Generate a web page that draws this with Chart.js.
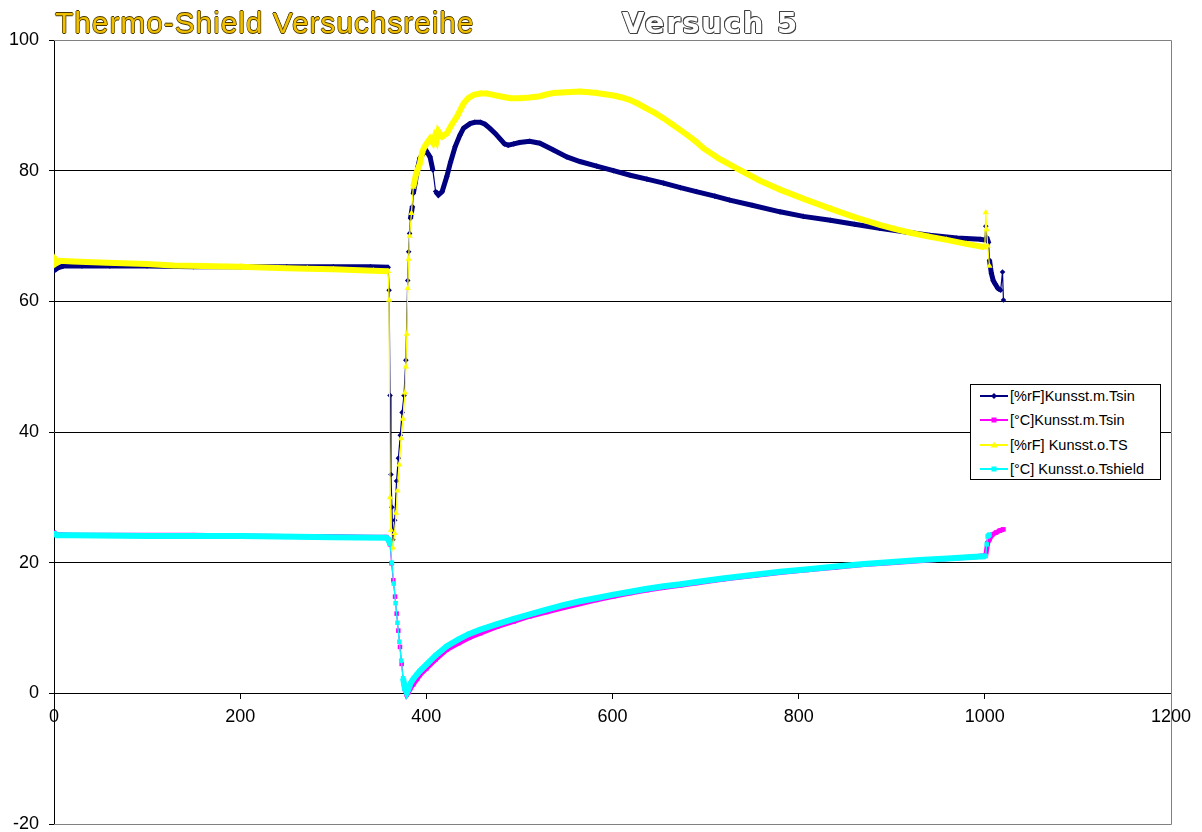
<!DOCTYPE html>
<html>
<head>
<meta charset="utf-8">
<script src="https://cdn.jsdelivr.net/npm/chart.js@4.4.0/dist/chart.umd.min.js"></script>
<style>
  body { margin: 0; background: #fff; }
  #wrap { position: relative; width: 1202px; height: 832px; font-family: "Liberation Sans", Arial, sans-serif; }
  #chart { position: absolute; left: 0; top: 0; }
  .titel { position: absolute; top: 8px; font-size: 30px; line-height: 30px; white-space: nowrap; }
  #titel1 {
    left: 55px; color: #f0c000; letter-spacing: 0.9px;
    text-shadow: 0.7px 0 0 #4a3800, -0.7px 0 0 #4a3800, 0 0.7px 0 #4a3800, 0 -0.7px 0 #4a3800;
  }
  #titel2 {
    left: 622px; color: #fff; font-family: "DejaVu Sans", sans-serif; font-weight: bold; font-size: 29px; letter-spacing: 1.8px;
    text-shadow: 1px 0 0 #404040, -1px 0 0 #404040, 0 1px 0 #404040, 0 -1px 0 #404040, 1px 1px 0 #404040, -1px -1px 0 #404040;
  }
  #legende { position: absolute; left: 970px; top: 384px; width: 191px; height: 96px; border: 1px solid #000; background: #fff; box-sizing: border-box; }
  .zeile { position: absolute; left: 0; height: 20px; width: 189px; }
  .zeile svg { position: absolute; left: 9px; top: 0; }
  .zeile span { position: absolute; left: 39px; top: 0; line-height: 20px; font-size: 14.5px; color: #000; white-space: nowrap; }
</style>
</head>
<body>
<div id="wrap">
  <canvas id="chart" width="1202" height="832"></canvas>
  <div class="titel" id="titel1">Thermo-Shield Versuchsreihe</div>
  <div class="titel" id="titel2">Versuch 5</div>
  <div id="legende"></div>
</div>
<script>
// Reihen-Namen (Legende)
const reihenNamen = ['[%rF]Kunsst.m.Tsin', '[°C]Kunsst.m.Tsin', '[%rF] Kunsst.o.TS', '[°C] Kunsst.o.Tshield'];

// Achsen
const xTicks = [0, 200, 400, 600, 800, 1000, 1200];
const yTicks = [-20, 0, 20, 40, 60, 80, 100];

const rfMit = [
  [0,64.7],[4,65.1],[10,65.4],[30,65.4],[60,65.4],[100,65.4],[150,65.3],[200,65.3],[250,65.3],[300,65.3],
  [340,65.3],[359,65.2],[360,61.7],[361,45.6],[362,33.5],[363,28.5],[364,23.5],[366,26.5],[368,32.5],[370,36],
  [372,39.5],[374,43],[376,45.6],[378,51],[380,63.2],[381,67.6],[382,70.4],[383,72.7],[385,74.5],[386,76.5],
  [388,78.1],[391,80.6],[393,81.9],[397,82.7],[400,83.0],[404,82.1],[407,80.1],[410,76.8],[413,76.3],[417,76.8],
  [422,79.1],[426,81.3],[431,83.7],[436,85.4],[440,86.5],[447,87.2],[452,87.4],[458,87.4],[463,87.1],[468,86.5],
  [474,85.7],[479,84.9],[484,84.1],[488,83.9],[494,84.1],[500,84.3],[511,84.5],[522,84.2],[536,83.2],[551,82.1],
  [565,81.4],[583,80.7],[601,80.0],[619,79.3],[637,78.7],[655,78.1],[673,77.4],[690,76.8],[710,76.1],[726,75.5],
  [750,74.7],[780,73.7],[805,73.0],[834,72.4],[860,71.8],[887,71.2],[915,70.6],[941,70.1],[970,69.7],[995,69.5],
  [1000,69.4],[1001,71.5],[1002,69.8],[1004,69.0],[1005,66.3],[1007,64.3],[1009,63.2],[1011,62.7],[1014,62.0],[1017,61.7],
  [1019,64.5],[1020,60.2]
];
const tMit = [
  [0,24.6],[3,24.3],[20,24.2],[100,24.2],[150,24.2],[200,24.1],[250,24.0],[300,24.0],[340,23.9],[357,23.9],
  [359,23.6],[361,22.8],[362.7,19.9],[364.5,17.3],[366.4,14.8],[368.1,12.2],[369.9,9.6],[371.7,7.1],[373.5,4.5],[375.3,2.0],
  [377,0.6],[379,-0.2],[381,0.2],[383,0.8],[386,1.4],[390,2.2],[393,2.8],[400,3.8],[410,5.2],[422,6.7],
  [435,7.7],[446,8.5],[458,9.2],[476,10.2],[494,11.0],[511,11.8],[529,12.45],[547,13.1],[565,13.7],[583,14.3],
  [601,14.85],[619,15.35],[637,15.8],[655,16.2],[673,16.55],[690,16.9],[720,17.5],[750,18.0],[780,18.5],[810,18.9],
  [840,19.3],[870,19.7],[900,20.0],[930,20.3],[960,20.6],[990,20.9],[1001,21.1],[1003,23.0],[1005,23.6],[1008,24.3],
  [1012,24.6],[1016,24.9],[1020,25.1]
];
const rfOhne = [
  [0,66.8],[2,65.8],[6,66.2],[20,66.1],[57,65.9],[100,65.7],[128,65.5],[160,65.4],[200,65.3],[240,65.1],
  [272,65.0],[300,64.9],[343,64.7],[359,64.6],[360,60.2],[361,30],[362,25],[364,22.3],[366,24.5],[367.5,27.6],
  [369,31],[371,35],[373,39],[375,42],[377,46],[378,50],[379,55],[380,62],[381,66.5],[382,70],
  [384,73.5],[386,77.5],[389,79.5],[393,81.1],[396,83],[399,83.9],[402,84.5],[404,84.9],[407,84.3],[409,85.2],
  [411,84.6],[413,86.0],[417,85.2],[422,85.7],[427,87.0],[433,88.3],[440,90.3],[445,91.1],[451,91.6],[458,91.8],
  [465,91.8],[472,91.6],[479,91.4],[490,91.1],[501,91.1],[511,91.2],[522,91.4],[530,91.7],[537,91.9],[550,92.0],
  [565,92.1],[575,92.0],[583,91.9],[592,91.7],[601,91.5],[610,91.2],[619,90.8],[628,90.2],[637,89.5],[646,88.8],
  [655,88.0],[664,87.1],[673,86.2],[682,85.3],[690,84.4],[698,83.4],[715,81.8],[737,80.1],[758,78.5],[780,77.1],
  [807,75.6],[834,74.2],[860,72.9],[887,71.7],[903,71.1],[920,70.5],[940,69.9],[959,69.4],[980,68.8],[999,68.3],
  [1000,68.2],[1001,73.6],[1002,71.0],[1003,68.5],[1005,65.4]
];
const tOhne = [
  [0,24.5],[3,24.2],[20,24.2],[100,24.1],[200,24.1],[300,23.9],[357,23.8],[359,23.6],[361,22.9],[363,20.0],
  [365,16.8],[367,13.8],[369,10.8],[371,7.9],[373,5.0],[375,2.3],[377,0.7],[379,0.1],[381,0.7],[383,1.5],
  [386,2.2],[390,2.9],[393,3.4],[400,4.4],[410,5.8],[422,7.2],[435,8.3],[446,9.1],[458,9.75],[476,10.6],
  [494,11.4],[511,12.1],[529,12.8],[547,13.5],[565,14.1],[583,14.6],[601,15.1],[619,15.55],[637,16.0],[655,16.4],
  [673,16.7],[690,17.05],[720,17.6],[750,18.1],[780,18.6],[810,19.0],[840,19.4],[870,19.8],[900,20.1],[930,20.4],
  [960,20.65],[990,20.9],[1001,21.0],[1002,22.8],[1003,24.0],[1005,24.3]
];

// Darstellung der Reihen (Excel-Standard)
const reihen = [
  { label: reihenNamen[0], werte: rfMit, farbe: '#000080', marker: 'rectRot', radius: 2.8, breite: 5, order: 4 },
  { label: reihenNamen[1], werte: tMit, farbe: '#ff00ff', marker: 'rect', radius: 3.2, breite: 5, order: 3 },
  { label: reihenNamen[2], werte: rfOhne, farbe: '#ffff00', marker: 'triangle', radius: 3.6, breite: 6, order: 2 },
  { label: reihenNamen[3], werte: tOhne, farbe: '#00ffff', marker: 'rect', radius: 3.2, breite: 6, order: 1 }
];

// steile Abschnitte: im Original nur dünne Linie zwischen einzelnen Markern
function steil(ctx) {
  const dx = Math.abs(ctx.p1.parsed.x - ctx.p0.parsed.x);
  const dy = Math.abs(ctx.p1.parsed.y - ctx.p0.parsed.y);
  return dy > dx * 1.0;
}

// grauer Rahmen um die Zeichenfläche (oben, rechts, unten)
const rahmenPlugin = {
  id: 'rahmen',
  beforeDatasetsDraw(chart) {
    const { ctx, chartArea: a } = chart;
    ctx.save();
    ctx.strokeStyle = '#808080';
    ctx.lineWidth = 1;
    ctx.beginPath();
    ctx.moveTo(a.left, a.top + 0.5);
    ctx.lineTo(a.right + 0.5, a.top + 0.5);
    ctx.lineTo(a.right + 0.5, a.bottom + 0.5);
    ctx.lineTo(a.left, a.bottom + 0.5);
    ctx.stroke();
    ctx.restore();
  }
};

const schrift = { family: '"Liberation Sans", Arial, sans-serif', size: 18 };

new Chart(document.getElementById('chart'), {
  type: 'scatter',
  data: {
    datasets: reihen.map(r => ({
      label: r.label,
      data: r.werte.map(p => ({ x: p[0], y: p[1] })),
      showLine: true,
      borderColor: r.farbe,
      backgroundColor: r.farbe,
      borderWidth: r.breite,
      pointStyle: r.marker,
      pointRadius: r.radius,
      pointBorderWidth: 0,
      order: r.order,
      segment: { borderWidth: ctx => steil(ctx) ? 1.2 : r.breite }
    }))
  },
  options: {
    responsive: false,
    animation: false,
    events: [],
    layout: { padding: { left: 0, top: 40, right: 31, bottom: 8 } },
    plugins: { legend: { display: false }, tooltip: { enabled: false } },
    scales: {
      x: {
        type: 'linear',
        position: { y: 0 },
        min: xTicks[0],
        max: xTicks[xTicks.length - 1],
        afterBuildTicks: s => { s.ticks = xTicks.map(v => ({ value: v })); },
        ticks: { color: '#000', font: schrift, padding: 8, maxRotation: 0, callback: v => String(v) },
        grid: { drawOnChartArea: false, drawTicks: true, tickLength: 5, color: '#000' },
        border: { color: '#000', width: 1 },
        afterFit: s => { s.height = 0; s.paddingLeft = 0; s.paddingRight = 0; }
      },
      y: {
        min: yTicks[0],
        max: yTicks[yTicks.length - 1],
        afterBuildTicks: s => { s.ticks = yTicks.map(v => ({ value: v })); },
        ticks: { color: '#000', font: schrift, padding: 10, callback: v => String(v) },
        grid: {
          color: c => (c.tick && (c.tick.value === 100 || c.tick.value === -20)) ? '#808080' : '#000',
          tickColor: '#000',
          tickLength: 5
        },
        border: { color: '#000', width: 1 },
        afterFit: s => { s.width = 54; s.paddingTop = 0; s.paddingBottom = 0; }
      }
    }
  },
  plugins: [rahmenPlugin]
});

// Legende als HTML
function markerSvg(r) {
  const c = r.farbe;
  let m = '';
  if (r.marker === 'rectRot') m = `<polygon points="14,7 17,10 14,13 11,10" fill="${c}"/>`;
  else if (r.marker === 'triangle') m = `<polygon points="14,6.5 17.5,12.5 10.5,12.5" fill="${c}"/>`;
  else m = `<rect x="11.5" y="7.5" width="5" height="5" fill="${c}"/>`;
  return `<svg width="28" height="20"><line x1="0" y1="10" x2="28" y2="10" stroke="${c}" stroke-width="2"/>${m}</svg>`;
}
const legende = document.getElementById('legende');
reihen.forEach((r, i) => {
  const z = document.createElement('div');
  z.className = 'zeile';
  z.style.top = (1 + i * 24.4) + 'px';
  z.innerHTML = markerSvg(r) + '<span></span>';
  z.querySelector('span').textContent = r.label;
  legende.appendChild(z);
});
</script>
</body>
</html>
